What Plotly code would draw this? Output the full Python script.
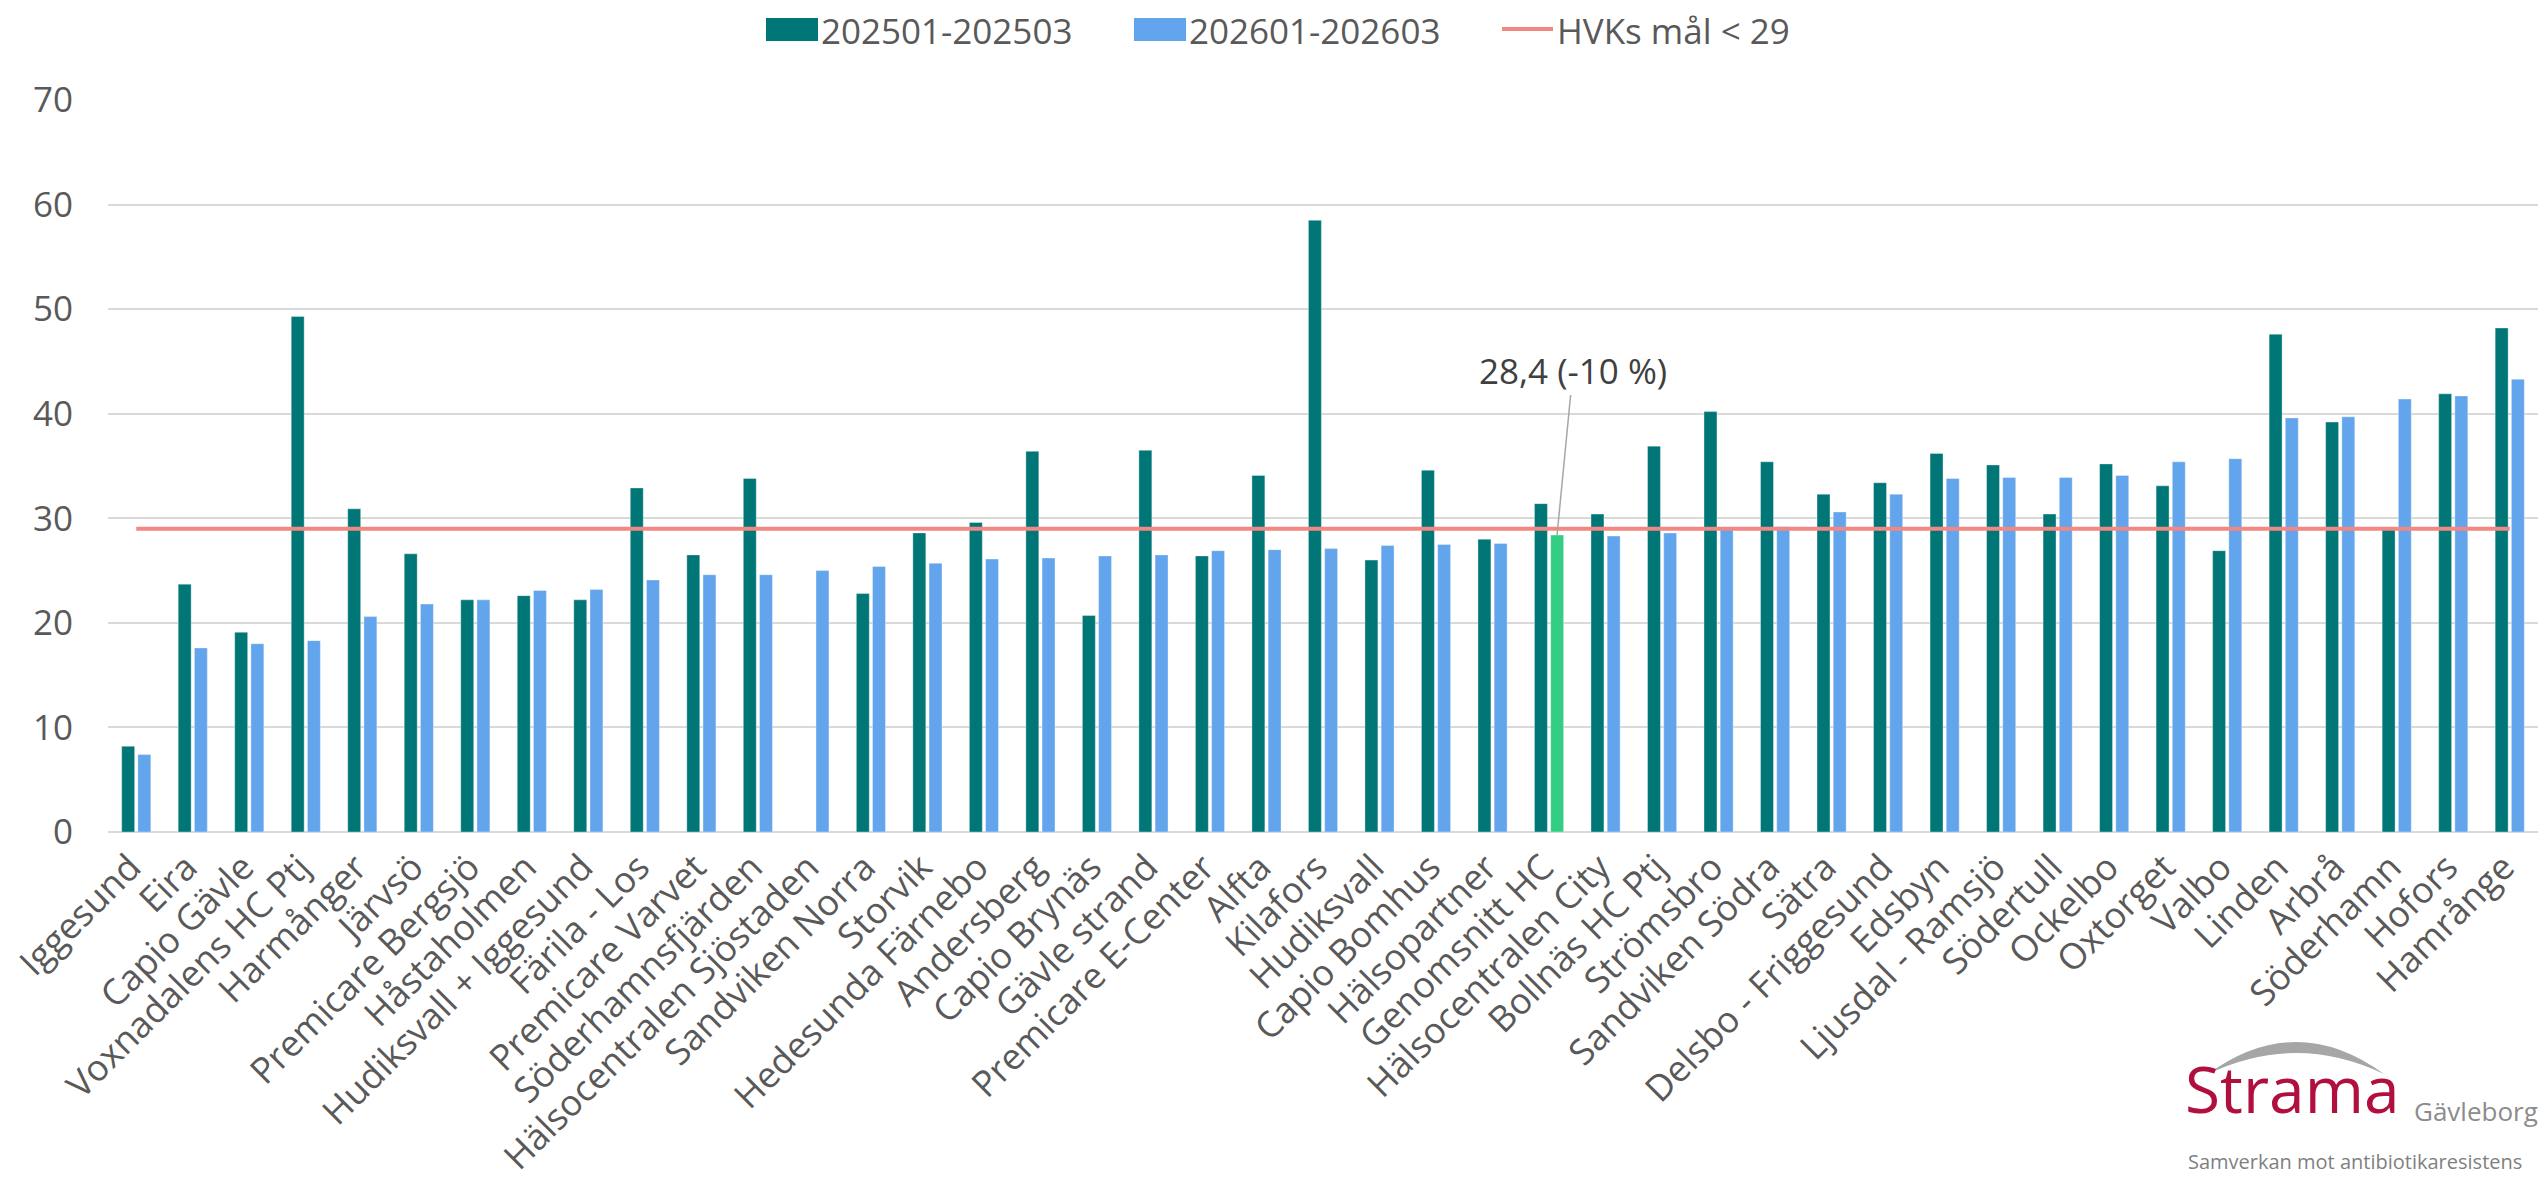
import plotly.graph_objects as go

# ---------------- data ----------------
categories = [
    "Iggesund", "Eira", "Capio Gävle", "Voxnadalens HC Ptj", "Harmånger", "Järvsö",
    "Premicare Bergsjö", "Håstaholmen", "Hudiksvall + Iggesund", "Färila - Los",
    "Premicare Varvet", "Söderhamnsfjärden", "Hälsocentralen Sjöstaden", "Sandviken Norra",
    "Storvik", "Hedesunda Färnebo", "Andersberg", "Capio Brynäs", "Gävle strand",
    "Premicare E-Center", "Alfta", "Kilafors", "Hudiksvall", "Capio Bomhus", "Hälsopartner",
    "Genomsnitt HC", "Hälsocentralen City", "Bollnäs HC Ptj", "Strömsbro", "Sandviken Södra",
    "Sätra", "Delsbo - Friggesund", "Edsbyn", "Ljusdal - Ramsjö", "Södertull", "Ockelbo",
    "Oxtorget", "Valbo", "Linden", "Arbrå", "Söderhamn", "Hofors", "Hamrånge",
]

values_2025 = [
    8.2, 23.7, 19.1, 49.3, 30.9, 26.6,
    22.2, 22.6, 22.2, 32.9,
    26.5, 33.8, None, 22.8,
    28.6, 29.6, 36.4, 20.7, 36.5,
    26.4, 34.1, 58.5, 26.0, 34.6, 28.0,
    31.4, 30.4, 36.9, 40.2, 35.4,
    32.3, 33.4, 36.2, 35.1, 30.4, 35.2,
    33.1, 26.9, 47.6, 39.2, 29.1, 41.9, 48.2,
]

values_2026 = [
    7.4, 17.6, 18.0, 18.3, 20.6, 21.8,
    22.2, 23.1, 23.2, 24.1,
    24.6, 24.6, 25.0, 25.4,
    25.7, 26.1, 26.2, 26.4, 26.5,
    26.9, 27.0, 27.1, 27.4, 27.5, 27.6,
    28.4, 28.3, 28.6, 29.0, 29.2,
    30.6, 32.3, 33.8, 33.9, 33.9, 34.1,
    35.4, 35.7, 39.6, 39.7, 41.4, 41.7, 43.3,
]

goal_value = 29
goal_values = [goal_value] * len(categories)

series_names = ["202501-202503", "202601-202603", "HVKs mål < 29"]
highlight_category = "Genomsnitt HC"
highlight_text = "28,4 (-10 %)"

# ---------------- style ----------------
C_TEAL = "#007676"
C_BLUE = "#63A5EC"
C_GREEN = "#33CD84"
C_RED = "#F18883"
C_TEXT = "#595959"
C_GRID = "#D9D9D9"
FONT = "Open Sans"

W, H = 2539, 1179
PL, PR, PT, PB = 108, 2538, 100, 832  # plot area pixels


def px_x(x):
    return (x - PL) / (PR - PL)


def px_y(y):
    return (PB - y) / (PB - PT)


colors_2026 = [C_GREEN if c == highlight_category else C_BLUE for c in categories]

fig = go.Figure()
fig.add_trace(go.Bar(
    x=categories, y=values_2025, name=series_names[0],
    marker=dict(color=C_TEAL, line=dict(color="rgba(255,255,255,0.35)", width=1)),
))
fig.add_trace(go.Bar(
    x=categories, y=values_2026, name=series_names[1],
    marker=dict(color=colors_2026, line=dict(color="rgba(255,255,255,0.35)", width=1)),
))
fig.add_trace(go.Scatter(
    x=categories, y=goal_values, name=series_names[2], mode="lines",
    line=dict(color=C_RED, width=4),
))

fig.update_layout(
    width=W, height=H,
    margin=dict(l=PL, r=W - PR, t=PT, b=H - PB, autoexpand=False),
    paper_bgcolor="white", plot_bgcolor="white",
    showlegend=False,
    barmode="group", bargap=0.427, bargroupgap=0.2,
    font=dict(family=FONT, color=C_TEXT, size=35),
)
fig.update_yaxes(
    range=[0, 70], dtick=10, showgrid=True, gridcolor=C_GRID, gridwidth=2,
    zeroline=True, zerolinecolor=C_GRID, zerolinewidth=2,
    showline=False, ticks="", ticklabelstandoff=34,
    tickfont=dict(size=35, color=C_TEXT, family=FONT),
)
fig.update_xaxes(
    tickangle=-45, ticks="", showgrid=False, showline=False,
    tickfont=dict(size=36, color=C_TEXT, family=FONT),
    ticklabelstandoff=6, ticklabelshift=-6,
)

# annotation for highlighted bar
fig.add_annotation(
    x=highlight_category, y=values_2026[categories.index(highlight_category)],
    xref="x", yref="y", xshift=8,
    text=highlight_text, showarrow=True, arrowhead=0, arrowwidth=1.5,
    arrowcolor="#A6A6A6", ax=16, ay=-165,
    font=dict(size=35, color="#404040", family=FONT),
)

# custom legend (large swatches like the original)
legend_items = [
    (series_names[0], "rect", C_TEAL, 766),
    (series_names[1], "rect", C_BLUE, 1134),
    (series_names[2], "line", C_RED, 1502),
]
for name, kind, col, x0 in legend_items:
    if kind == "rect":
        fig.add_shape(type="rect", xref="paper", yref="paper",
                      x0=px_x(x0), x1=px_x(x0 + 52), y0=px_y(41), y1=px_y(18),
                      fillcolor=col, line=dict(width=0))
    else:
        fig.add_shape(type="line", xref="paper", yref="paper",
                      x0=px_x(x0), x1=px_x(x0 + 51), y0=px_y(29), y1=px_y(29),
                      line=dict(color=col, width=4))
    fig.add_annotation(
        x=px_x(x0 + 53), y=px_y(30), xref="paper", yref="paper",
        xanchor="left", yanchor="middle", showarrow=False, text=name,
        font=dict(size=35, color=C_TEXT, family=FONT),
    )

# Strama logo (text + arc)
ax0, ax1, ay_end, ay_top = 2208, 2384, 1074, 1043
axm = (ax0 + ax1) / 2
path = (
    f"M {px_x(ax0)},{px_y(ay_end)} "
    f"Q {px_x(axm)},{px_y(2 * ay_top - ay_end - 2)} {px_x(ax1)},{px_y(ay_end)} "
    f"Q {px_x(axm)},{px_y(2 * (ay_top + 10) - ay_end)} {px_x(ax0)},{px_y(ay_end)} Z"
)
fig.add_shape(type="path", xref="paper", yref="paper", path=path,
              fillcolor="#A6A6A6", line=dict(width=0))
fig.add_annotation(
    x=px_x(2183), y=px_y(1134), xref="paper", yref="paper",
    xanchor="left", yanchor="bottom", showarrow=False, text="Strama",
    font=dict(size=64, color="#B1103E", family=FONT),
)
fig.add_annotation(
    x=px_x(2412), y=px_y(1131), xref="paper", yref="paper",
    xanchor="left", yanchor="bottom", showarrow=False, text="Gävleborg",
    font=dict(size=26, color="#8C8C8C", family=FONT),
)
fig.add_annotation(
    x=px_x(2186), y=px_y(1177), xref="paper", yref="paper",
    xanchor="left", yanchor="bottom", showarrow=False,
    text="Samverkan mot antibiotikaresistens",
    font=dict(size=20, color="#7F7F7F", family=FONT),
)

fig.write_html(
    "out.html",
    config={"displayModeBar": False},
    post_script="document.body.style.margin='0px';document.body.style.overflow='hidden';",
)
